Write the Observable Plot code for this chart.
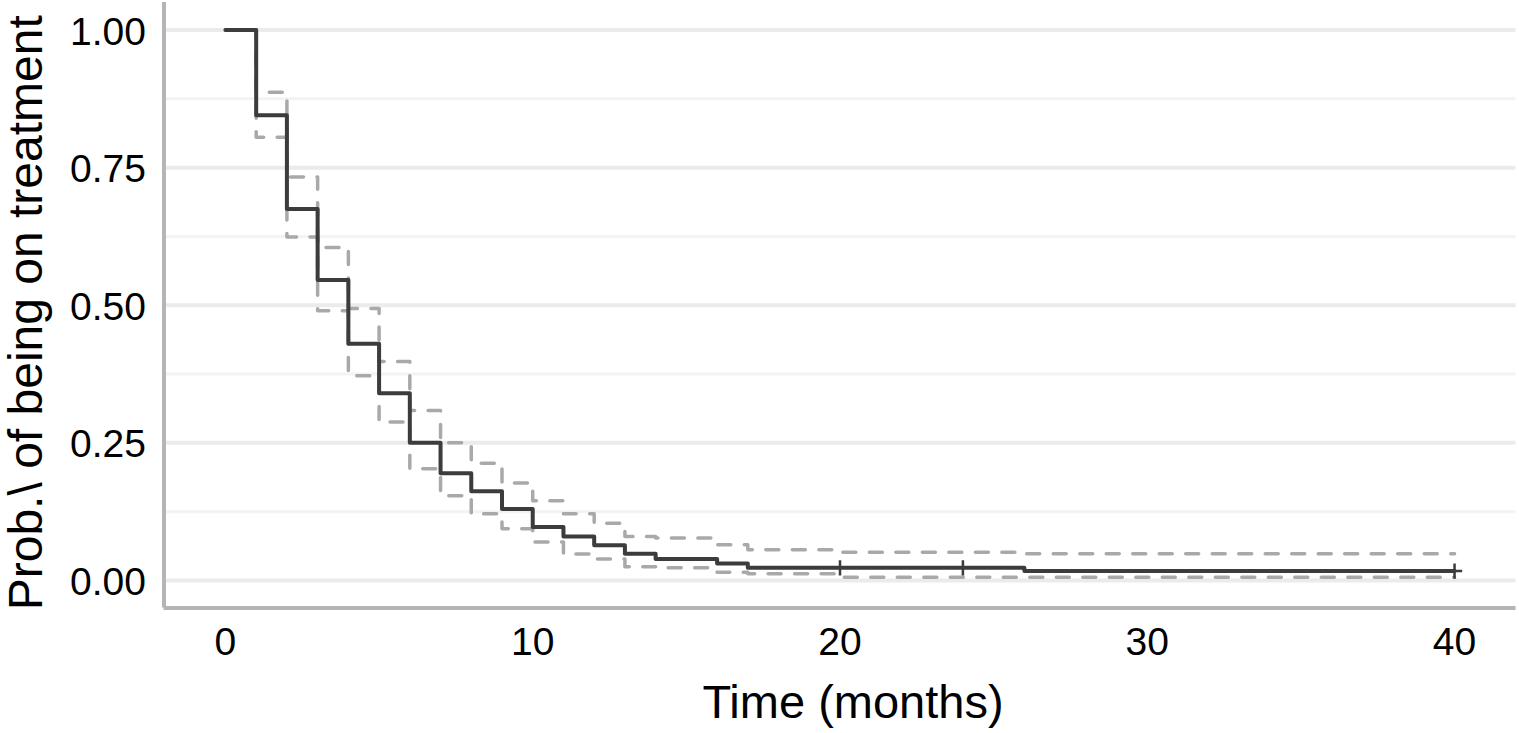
<!DOCTYPE html>
<html><head><meta charset="utf-8">
<script src="https://cdn.jsdelivr.net/npm/d3@7"></script>
<script src="https://cdn.jsdelivr.net/npm/@observablehq/plot@0.6"></script>
<style>html,body{margin:0;padding:0;background:#fff;}</style>
</head><body><div id="chart"></div>
<script>
// Kaplan–Meier estimate (step-after) with confidence limits
const stepTimes = [0, 1, 2, 3, 4, 5, 6, 7, 8, 9, 10, 11, 12, 13, 14, 16, 17, 20, 26, 40];
const survival  = [1.000, 0.845, 0.675, 0.546, 0.430, 0.340, 0.250, 0.195, 0.162, 0.130, 0.097, 0.080, 0.064, 0.0485, 0.039, 0.031, 0.023, 0.023, 0.017, 0.017];
const upperCI   = [1.000, 0.887, 0.733, 0.605, 0.494, 0.398, 0.309, 0.250, 0.213, 0.177, 0.145, 0.121, 0.104, 0.080, 0.077, 0.065, 0.056, 0.0515, 0.0485, 0.0485];
const lowerCI   = [1.000, 0.805, 0.624, 0.490, 0.372, 0.288, 0.203, 0.154, 0.121, 0.094, 0.070, 0.048, 0.039, 0.025, 0.023, 0.015, 0.012, 0.006, 0.006, 0.006];
const censorTimes = [20, 24, 40];
const censorSurv  = [0.023, 0.023, 0.017];
const xTicks = [0, 10, 20, 30, 40];
const yTicks = [0, 0.25, 0.5, 0.75, 1];
const yMinorTicks = [0.125, 0.375, 0.625, 0.875];
const xTitle = "Time (months)";
const yTitle = "Prob.\\ of being on treatment";

const km = stepTimes.map((t, i) => ({t, s: survival[i], u: upperCI[i], l: lowerCI[i]}));
const censor = censorTimes.map((t, i) => ({t, s: censorSurv[i]}));

const font = "'Liberation Sans', Arial, Helvetica, sans-serif";
const dash = "13,13.5";

const chart = Plot.plot({
  width: 1519,
  height: 733,
  marginLeft: 163.5,
  marginRight: 3.5,
  marginTop: 2,
  marginBottom: 125.5,
  style: {fontFamily: font, fontSize: "39px", color: "#000", background: "#fff", overflow: "visible"},
  x: {domain: [-2, 42]},
  y: {domain: [-0.05, 1.05]},
  marks: [
    Plot.ruleY(yMinorTicks, {stroke: "#f3f3f3", strokeWidth: 3}),
    Plot.ruleY(yTicks, {stroke: "#ebebeb", strokeWidth: 4}),
    Plot.axisX({ticks: xTicks, tickSize: 0, tickPadding: 19, label: null, fontSize: 39, fill: "#000"}),
    Plot.axisY({ticks: yTicks, tickSize: 0, tickPadding: 18, tickFormat: d3.format(".2f"), label: null, fontSize: 39, fill: "#000", dy: 2}),
    Plot.line(km, {x: "t", y: "u", curve: "step-after", stroke: "#a9a9a9", strokeWidth: 3.5, strokeDasharray: dash}),
    Plot.line(km, {x: "t", y: "l", curve: "step-after", stroke: "#a9a9a9", strokeWidth: 3.5, strokeDasharray: dash}),
    Plot.line(km, {x: "t", y: "s", curve: "step-after", stroke: "#3c3c3c", strokeWidth: 4}),
    Plot.dot(censor, {x: "t", y: "s", symbol: "plus", r: 5, stroke: "#3c3c3c", strokeWidth: 2.5}),
    Plot.ruleX([-2], {stroke: "#b5b5b5", strokeWidth: 4}),
    Plot.ruleY([-0.05], {stroke: "#b5b5b5", strokeWidth: 4}),
    Plot.text([xTitle], {frameAnchor: "bottom", textAnchor: "middle", dx: 13, dy: 94.5, fontSize: 47, fill: "#000", lineAnchor: "middle"}),
    Plot.text([yTitle], {frameAnchor: "left", textAnchor: "middle", dx: -137, dy: 7.5, rotate: -90, fontSize: 48, fill: "#000", lineAnchor: "middle"})
  ]
});
document.getElementById("chart").appendChild(chart);
</script>
</body></html>
